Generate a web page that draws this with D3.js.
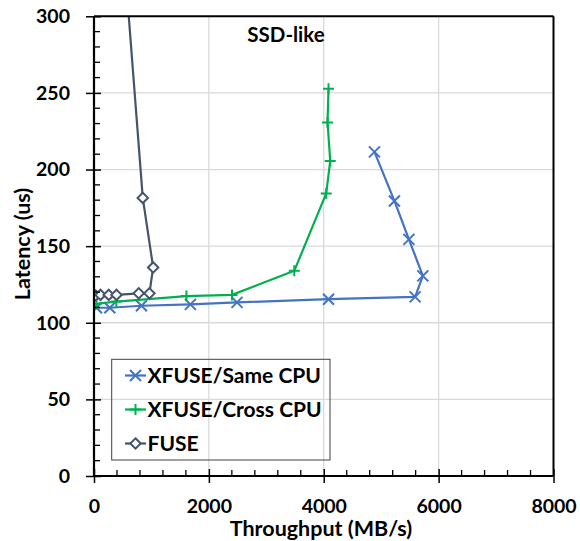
<!DOCTYPE html>
<html><head><meta charset="utf-8">
<script src="https://cdn.jsdelivr.net/npm/d3@7"></script>
<style>
html,body{margin:0;padding:0;background:#fff;}
text{font-family:Lato,"Open Sans",sans-serif;font-weight:bold;fill:#000;}
</style></head>
<body><svg id="c" width="580" height="541"></svg>
<script>
// ---- data ----
const sameCpuThroughput = [43, 275, 826, 1678, 2490, 4083, 5591, 5725, 5483, 5230, 4883];
const sameCpuLatency    = [109.8, 109.8, 111.1, 112.0, 113.3, 115.4, 116.9, 130.6, 154.4, 179.5, 211.5];
const crossCpuThroughput = [43, 390, 1609, 2403, 3487, 4043, 4113, 4066, 4083];
const crossCpuLatency    = [112.4, 113.8, 117.4, 118.2, 133.9, 184.4, 205.6, 230.7, 252.8];
const fuseThroughput = [26, 113, 257, 391, 779, 965, 1030, 849, 399];
const fuseLatency    = [117.8, 118.2, 118.2, 118.2, 119.2, 119.2, 136.1, 181.5, 400];
const seriesNames = ["XFUSE/Same CPU", "XFUSE/Cross CPU", "FUSE"];
const xTicks = [0, 2000, 4000, 6000, 8000];
const yTicks = [0, 50, 100, 150, 200, 250, 300];
const chartTitle = "SSD-like";
const xTitle = "Throughput (MB/s)";
const yTitle = "Latency (us)";

const colors = ["#4472C4", "#00B050", "#44546A"];
const svg = d3.select("#c");
const L = 94, R = 553.5, T = 16.3, B = 476;
const x = d3.scaleLinear().domain([0, 8000]).range([L, R]);
const y = d3.scaleLinear().domain([0, 300]).range([B, T]);

// gridlines
svg.append("g").selectAll("line").data(yTicks.filter(d => d > 0 && d < 300)).join("line")
  .attr("x1", L).attr("x2", R).attr("y1", d => y(d)).attr("y2", d => y(d))
  .attr("stroke", "#d9d9d9").attr("stroke-width", 1.3);
svg.append("g").selectAll("line").data(xTicks.filter(d => d > 0 && d < 8000)).join("line")
  .attr("y1", T).attr("y2", B).attr("x1", d => x(d)).attr("x2", d => x(d))
  .attr("stroke", "#d9d9d9").attr("stroke-width", 1.3);

// title
svg.append("text").attr("x", 286).attr("y", 41.5).attr("text-anchor", "middle")
  .attr("font-size", 20.5).text(chartTitle);

// clip
svg.append("clipPath").attr("id", "clip").append("rect")
  .attr("x", L).attr("y", T).attr("width", R - L).attr("height", B - T);

const series = [
  {name: seriesNames[0], xs: sameCpuThroughput, ys: sameCpuLatency, color: colors[0], marker: "x"},
  {name: seriesNames[1], xs: crossCpuThroughput, ys: crossCpuLatency, color: colors[1], marker: "plus"},
  {name: seriesNames[2], xs: fuseThroughput, ys: fuseLatency, color: colors[2], marker: "diamond"}
];

function drawMarker(g, type, cx, cy, color) {
  if (type === "x") {
    const s = 5.5;
    g.append("path").attr("d", `M${cx-s},${cy-s}L${cx+s},${cy+s}M${cx-s},${cy+s}L${cx+s},${cy-s}`)
      .attr("stroke", color).attr("stroke-width", 2).attr("fill", "none");
  } else if (type === "plus") {
    const s = 5.5;
    g.append("path").attr("d", `M${cx-s},${cy}L${cx+s},${cy}M${cx},${cy-s}L${cx},${cy+s}`)
      .attr("stroke", color).attr("stroke-width", 2).attr("fill", "none");
  } else {
    const s = 5.2;
    g.append("path").attr("d", `M${cx},${cy-s}L${cx+s},${cy}L${cx},${cy+s}L${cx-s},${cy}Z`)
      .attr("stroke", color).attr("stroke-width", 2).attr("fill", "#fff");
  }
}

const plot = svg.append("g").attr("clip-path", "url(#clip)");
const line = d3.line().x(d => x(d[0])).y(d => y(d[1]));
series.forEach(s => {
  const pts = s.xs.map((v, i) => [v, s.ys[i]]);
  const g = plot.append("g");
  g.append("path").attr("d", line(pts)).attr("fill", "none")
    .attr("stroke", s.color).attr("stroke-width", 2.2).attr("stroke-linejoin", "round");
  pts.forEach(p => drawMarker(g, s.marker, x(p[0]), y(p[1]), s.color));
});

// border top/right
svg.append("line").attr("x1", L).attr("x2", R).attr("y1", T).attr("y2", T).attr("stroke", "#000").attr("stroke-width", 2);
svg.append("line").attr("x1", R).attr("x2", R).attr("y1", T).attr("y2", B).attr("stroke", "#000").attr("stroke-width", 2);

// minor ticks
const yMinor = d3.range(0, 301, 10).filter(d => d % 50 !== 0);
svg.append("g").selectAll("line").data(yMinor).join("line")
  .attr("x1", L).attr("x2", L + 6).attr("y1", d => y(d)).attr("y2", d => y(d))
  .attr("stroke", "#000").attr("stroke-width", 1.3);
const xMinor = d3.range(0, 8001, 400).filter(d => d % 2000 !== 0);
svg.append("g").selectAll("line").data(xMinor).join("line")
  .attr("y1", B).attr("y2", B - 6).attr("x1", d => x(d)).attr("x2", d => x(d))
  .attr("stroke", "#000").attr("stroke-width", 1.3);

// axes
const xAxis = d3.axisBottom(x).tickValues(xTicks).tickSize(7).tickFormat(d3.format("d"));
const gx = svg.append("g").attr("transform", `translate(0,${B})`).call(xAxis);
gx.select(".domain").attr("stroke-width", 2.2).attr("d", `M${L},0H${R}`);
gx.selectAll(".tick line").attr("stroke-width", 1.5).attr("y1", -7);
gx.selectAll(".tick text").attr("font-size", 19.5).attr("font-family", "Lato").attr("font-weight", "bold").attr("y", 23).attr("dy", "0.71em").attr("fill", "#000");

const yAxis = d3.axisLeft(y).tickValues(yTicks).tickSize(8).tickFormat(d3.format("d"));
const gy = svg.append("g").attr("transform", `translate(${L},0)`).call(yAxis);
gy.select(".domain").attr("stroke-width", 2.2).attr("d", `M0,${T}V${B}`);
gy.selectAll(".tick line").attr("stroke-width", 1.5).attr("x1", 7);
gy.selectAll(".tick text").attr("font-size", 19.5).attr("font-family", "Lato").attr("font-weight", "bold").attr("x", -24).attr("fill", "#000");

// axis titles
svg.append("text").attr("x", 321).attr("y", 535.5).attr("text-anchor", "middle").attr("font-size", 21.5).text(xTitle);
svg.append("text").attr("transform", "translate(30,244) rotate(-90)").attr("text-anchor", "middle").attr("font-size", 21.5).text(yTitle);

// legend
const lg = svg.append("g");
lg.append("rect").attr("x", 111.7).attr("y", 359.3).attr("width", 218.3).attr("height", 100.7)
  .attr("fill", "none").attr("stroke", "#404040").attr("stroke-width", 1);
series.forEach((s, i) => {
  const cy = 375.5 + i * 34;
  lg.append("line").attr("x1", 125).attr("x2", 146).attr("y1", cy).attr("y2", cy)
    .attr("stroke", s.color).attr("stroke-width", 2.2);
  drawMarker(lg, s.marker, 135.5, cy, s.color);
  lg.append("text").attr("x", 147.5).attr("y", cy).attr("dy", "0.36em").attr("font-size", 21).text(s.name);
});
</script></body></html>
